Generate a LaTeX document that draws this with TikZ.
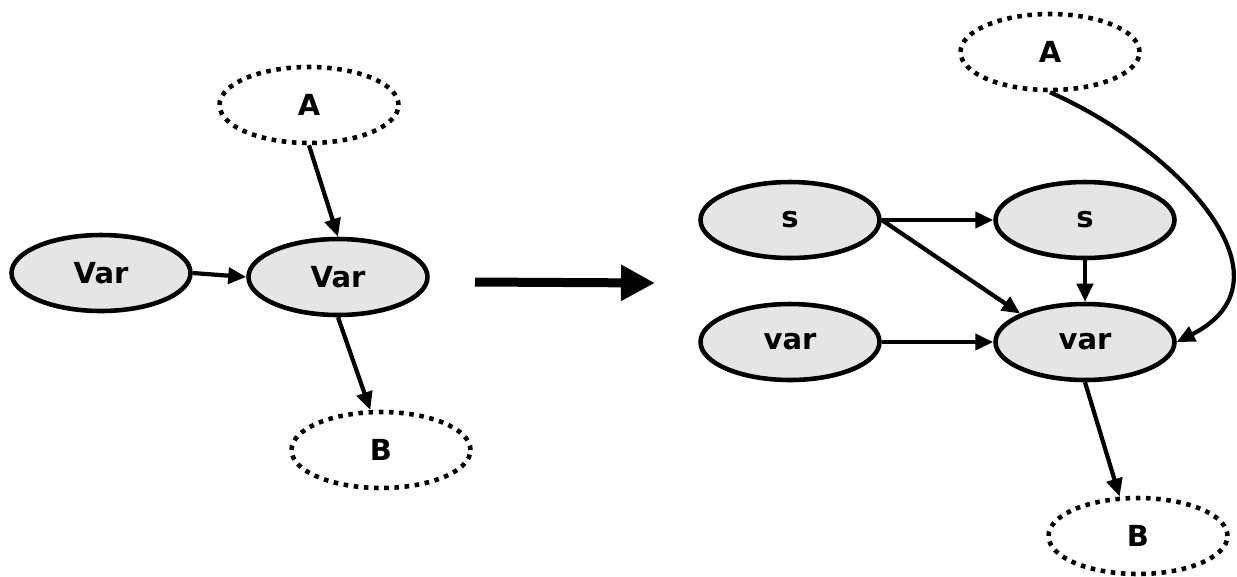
\documentclass[tikz,border=0pt]{standalone}
\usepackage{fontspec}
\setmainfont{DejaVu Sans}
\usetikzlibrary{arrows.meta,shapes.geometric}

\begin{document}
\begin{tikzpicture}[
    x=0.02cm, y=-0.02cm,
    font=\fontsize{16.5}{19}\selectfont\bfseries,
    >={Triangle[length=0.36cm,width=0.32cm]},
    varnode/.style={ellipse, draw, line width=2.6pt, fill=black!10, minimum width=3.58cm, minimum height=1.52cm, inner sep=0pt},
    extnode/.style={ellipse, draw, line width=2.6pt, dash pattern=on 2.6pt off 3.2pt, minimum width=3.58cm, minimum height=1.52cm, inner sep=0pt},
    link/.style={->, line width=2.4pt},
    bigarrow/.style={-{Triangle[length=0.68cm,width=0.68cm]}, line width=0.18cm}
]
\useasboundingbox (0,0) rectangle (1237,576);

% before
\node[extnode] (lA) at (309,105) {A};
\node[varnode] (lvar1) at (101,273) {Var};
\node[varnode] (lvar2) at (338,277) {Var};
\node[extnode] (lB) at (381,450) {B};

\draw[link] (lA.south) -- (lvar2.north);
\draw[link] (lvar1.east) -- (lvar2.west);
\draw[link] (lvar2.south) -- (lB.105);

% transformation
\coordinate (tfrom) at (475,282);
\coordinate (tto) at (655,283);
\draw[bigarrow] (tfrom) -- (tto);

% after
\node[extnode] (rA) at (1050,52) {A};
\node[varnode] (rs1) at (790,220) {s};
\node[varnode] (rs2) at (1085,220) {s};
\node[varnode] (rvar1) at (790,342) {var};
\node[varnode] (rvar2) at (1085,342) {var};
\node[extnode] (rB) at (1138,536) {B};

\draw[link] (rs1.east) -- (rs2.west);
\draw[link] (rs1.east) -- (rvar2.north west);
\draw[link] (rs2.south) -- (rvar2.north);
\draw[link] (rvar1.east) -- (rvar2.west);
\draw[link] (rvar2.south) -- (rB.115);
\draw[link] (rA.south) .. controls (1180,150) and (1300,280) .. (rvar2.east);
\end{tikzpicture}
\end{document}
